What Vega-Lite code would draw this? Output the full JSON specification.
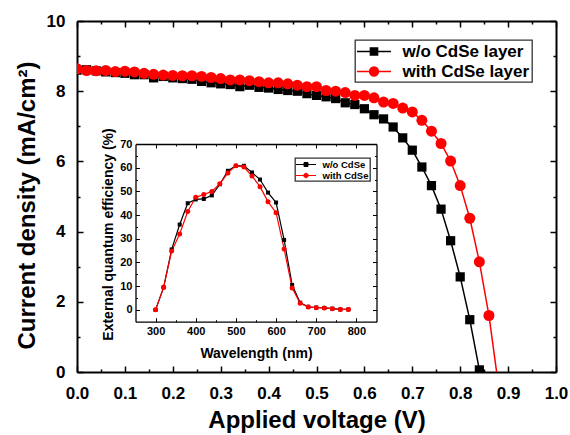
{
  "$schema": "https://vega.github.io/schema/vega-lite/v6.json",
  "width": 479,
  "height": 351,
  "autosize": "none",
  "padding": {"left": 77, "top": 21, "right": 14, "bottom": 63},
  "background": "white",
  "datasets": {
    "jv": [
      {"V": 0.00, "J": 8.60, "s": "w/o CdSe layer"},
      {"V": 0.02, "J": 8.61, "s": "w/o CdSe layer"},
      {"V": 0.04, "J": 8.58, "s": "w/o CdSe layer"},
      {"V": 0.06, "J": 8.55, "s": "w/o CdSe layer"},
      {"V": 0.08, "J": 8.53, "s": "w/o CdSe layer"},
      {"V": 0.10, "J": 8.51, "s": "w/o CdSe layer"},
      {"V": 0.12, "J": 8.47, "s": "w/o CdSe layer"},
      {"V": 0.14, "J": 8.47, "s": "w/o CdSe layer"},
      {"V": 0.16, "J": 8.38, "s": "w/o CdSe layer"},
      {"V": 0.18, "J": 8.42, "s": "w/o CdSe layer"},
      {"V": 0.20, "J": 8.38, "s": "w/o CdSe layer"},
      {"V": 0.22, "J": 8.36, "s": "w/o CdSe layer"},
      {"V": 0.24, "J": 8.34, "s": "w/o CdSe layer"},
      {"V": 0.26, "J": 8.28, "s": "w/o CdSe layer"},
      {"V": 0.28, "J": 8.24, "s": "w/o CdSe layer"},
      {"V": 0.30, "J": 8.21, "s": "w/o CdSe layer"},
      {"V": 0.32, "J": 8.19, "s": "w/o CdSe layer"},
      {"V": 0.34, "J": 8.13, "s": "w/o CdSe layer"},
      {"V": 0.36, "J": 8.17, "s": "w/o CdSe layer"},
      {"V": 0.38, "J": 8.11, "s": "w/o CdSe layer"},
      {"V": 0.40, "J": 8.09, "s": "w/o CdSe layer"},
      {"V": 0.42, "J": 8.05, "s": "w/o CdSe layer"},
      {"V": 0.44, "J": 8.02, "s": "w/o CdSe layer"},
      {"V": 0.46, "J": 8.00, "s": "w/o CdSe layer"},
      {"V": 0.48, "J": 7.93, "s": "w/o CdSe layer"},
      {"V": 0.50, "J": 7.88, "s": "w/o CdSe layer"},
      {"V": 0.52, "J": 7.84, "s": "w/o CdSe layer"},
      {"V": 0.54, "J": 7.79, "s": "w/o CdSe layer"},
      {"V": 0.56, "J": 7.67, "s": "w/o CdSe layer"},
      {"V": 0.58, "J": 7.62, "s": "w/o CdSe layer"},
      {"V": 0.60, "J": 7.50, "s": "w/o CdSe layer"},
      {"V": 0.62, "J": 7.33, "s": "w/o CdSe layer"},
      {"V": 0.64, "J": 7.21, "s": "w/o CdSe layer"},
      {"V": 0.66, "J": 6.98, "s": "w/o CdSe layer"},
      {"V": 0.68, "J": 6.67, "s": "w/o CdSe layer"},
      {"V": 0.70, "J": 6.32, "s": "w/o CdSe layer"},
      {"V": 0.72, "J": 5.84, "s": "w/o CdSe layer"},
      {"V": 0.74, "J": 5.31, "s": "w/o CdSe layer"},
      {"V": 0.76, "J": 4.64, "s": "w/o CdSe layer"},
      {"V": 0.78, "J": 3.74, "s": "w/o CdSe layer"},
      {"V": 0.80, "J": 2.71, "s": "w/o CdSe layer"},
      {"V": 0.82, "J": 1.49, "s": "w/o CdSe layer"},
      {"V": 0.84, "J": 0.06, "s": "w/o CdSe layer"},
      {"V": 0.00, "J": 8.64, "s": "with CdSe layer"},
      {"V": 0.02, "J": 8.59, "s": "with CdSe layer"},
      {"V": 0.04, "J": 8.58, "s": "with CdSe layer"},
      {"V": 0.06, "J": 8.59, "s": "with CdSe layer"},
      {"V": 0.08, "J": 8.56, "s": "with CdSe layer"},
      {"V": 0.10, "J": 8.57, "s": "with CdSe layer"},
      {"V": 0.12, "J": 8.55, "s": "with CdSe layer"},
      {"V": 0.14, "J": 8.51, "s": "with CdSe layer"},
      {"V": 0.16, "J": 8.48, "s": "with CdSe layer"},
      {"V": 0.18, "J": 8.46, "s": "with CdSe layer"},
      {"V": 0.20, "J": 8.45, "s": "with CdSe layer"},
      {"V": 0.22, "J": 8.44, "s": "with CdSe layer"},
      {"V": 0.24, "J": 8.44, "s": "with CdSe layer"},
      {"V": 0.26, "J": 8.42, "s": "with CdSe layer"},
      {"V": 0.28, "J": 8.39, "s": "with CdSe layer"},
      {"V": 0.30, "J": 8.36, "s": "with CdSe layer"},
      {"V": 0.32, "J": 8.32, "s": "with CdSe layer"},
      {"V": 0.34, "J": 8.32, "s": "with CdSe layer"},
      {"V": 0.36, "J": 8.30, "s": "with CdSe layer"},
      {"V": 0.38, "J": 8.27, "s": "with CdSe layer"},
      {"V": 0.40, "J": 8.24, "s": "with CdSe layer"},
      {"V": 0.42, "J": 8.24, "s": "with CdSe layer"},
      {"V": 0.44, "J": 8.21, "s": "with CdSe layer"},
      {"V": 0.46, "J": 8.17, "s": "with CdSe layer"},
      {"V": 0.48, "J": 8.13, "s": "with CdSe layer"},
      {"V": 0.50, "J": 8.13, "s": "with CdSe layer"},
      {"V": 0.52, "J": 8.02, "s": "with CdSe layer"},
      {"V": 0.54, "J": 8.00, "s": "with CdSe layer"},
      {"V": 0.56, "J": 7.96, "s": "with CdSe layer"},
      {"V": 0.58, "J": 7.88, "s": "with CdSe layer"},
      {"V": 0.60, "J": 7.88, "s": "with CdSe layer"},
      {"V": 0.62, "J": 7.81, "s": "with CdSe layer"},
      {"V": 0.64, "J": 7.69, "s": "with CdSe layer"},
      {"V": 0.66, "J": 7.65, "s": "with CdSe layer"},
      {"V": 0.68, "J": 7.52, "s": "with CdSe layer"},
      {"V": 0.70, "J": 7.41, "s": "with CdSe layer"},
      {"V": 0.72, "J": 7.17, "s": "with CdSe layer"},
      {"V": 0.74, "J": 6.86, "s": "with CdSe layer"},
      {"V": 0.76, "J": 6.51, "s": "with CdSe layer"},
      {"V": 0.78, "J": 6.01, "s": "with CdSe layer"},
      {"V": 0.80, "J": 5.31, "s": "with CdSe layer"},
      {"V": 0.82, "J": 4.38, "s": "with CdSe layer"},
      {"V": 0.84, "J": 3.14, "s": "with CdSe layer"},
      {"V": 0.86, "J": 1.61, "s": "with CdSe layer"},
      {"V": 0.88, "J": -0.40, "s": "with CdSe layer"}
    ],
    "eqe": [
      {"wl": 300, "q": 0.0, "s": "w/o CdSe"},
      {"wl": 320, "q": 9.5, "s": "w/o CdSe"},
      {"wl": 340, "q": 25.5, "s": "w/o CdSe"},
      {"wl": 360, "q": 36.0, "s": "w/o CdSe"},
      {"wl": 380, "q": 45.0, "s": "w/o CdSe"},
      {"wl": 400, "q": 46.6, "s": "w/o CdSe"},
      {"wl": 420, "q": 46.8, "s": "w/o CdSe"},
      {"wl": 440, "q": 48.3, "s": "w/o CdSe"},
      {"wl": 460, "q": 53.0, "s": "w/o CdSe"},
      {"wl": 480, "q": 58.7, "s": "w/o CdSe"},
      {"wl": 500, "q": 60.8, "s": "w/o CdSe"},
      {"wl": 520, "q": 60.8, "s": "w/o CdSe"},
      {"wl": 540, "q": 58.0, "s": "w/o CdSe"},
      {"wl": 560, "q": 55.0, "s": "w/o CdSe"},
      {"wl": 580, "q": 49.5, "s": "w/o CdSe"},
      {"wl": 600, "q": 45.3, "s": "w/o CdSe"},
      {"wl": 620, "q": 29.5, "s": "w/o CdSe"},
      {"wl": 640, "q": 10.5, "s": "w/o CdSe"},
      {"wl": 660, "q": 3.0, "s": "w/o CdSe"},
      {"wl": 680, "q": 1.3, "s": "w/o CdSe"},
      {"wl": 700, "q": 1.0, "s": "w/o CdSe"},
      {"wl": 720, "q": 0.8, "s": "w/o CdSe"},
      {"wl": 740, "q": 0.5, "s": "w/o CdSe"},
      {"wl": 760, "q": 0.2, "s": "w/o CdSe"},
      {"wl": 780, "q": 0.2, "s": "w/o CdSe"},
      {"wl": 300, "q": 0.0, "s": "with CdSe"},
      {"wl": 320, "q": 9.5, "s": "with CdSe"},
      {"wl": 340, "q": 24.8, "s": "with CdSe"},
      {"wl": 360, "q": 32.0, "s": "with CdSe"},
      {"wl": 380, "q": 41.5, "s": "with CdSe"},
      {"wl": 400, "q": 47.5, "s": "with CdSe"},
      {"wl": 420, "q": 48.7, "s": "with CdSe"},
      {"wl": 440, "q": 50.0, "s": "with CdSe"},
      {"wl": 460, "q": 53.2, "s": "with CdSe"},
      {"wl": 480, "q": 57.8, "s": "with CdSe"},
      {"wl": 500, "q": 60.8, "s": "with CdSe"},
      {"wl": 520, "q": 60.3, "s": "with CdSe"},
      {"wl": 540, "q": 56.5, "s": "with CdSe"},
      {"wl": 560, "q": 52.0, "s": "with CdSe"},
      {"wl": 580, "q": 45.6, "s": "with CdSe"},
      {"wl": 600, "q": 41.0, "s": "with CdSe"},
      {"wl": 620, "q": 25.7, "s": "with CdSe"},
      {"wl": 640, "q": 9.2, "s": "with CdSe"},
      {"wl": 660, "q": 2.8, "s": "with CdSe"},
      {"wl": 680, "q": 1.2, "s": "with CdSe"},
      {"wl": 700, "q": 0.9, "s": "with CdSe"},
      {"wl": 720, "q": 0.8, "s": "with CdSe"},
      {"wl": 740, "q": 0.5, "s": "with CdSe"},
      {"wl": 760, "q": 0.2, "s": "with CdSe"},
      {"wl": 780, "q": 0.2, "s": "with CdSe"}
    ]
  },
  "layer": [
    {
      "data": {"name": "jv"},
      "mark": {"type": "line", "strokeWidth": 1.5, "clip": true},
      "encoding": {
        "x": {"field": "V", "type": "quantitative",
          "scale": {"domain": [0, 1], "nice": false, "zero": false},
          "axis": {"orient": "bottom",
            "values": [0,0.05,0.1,0.15,0.2,0.25,0.3,0.35,0.4,0.45,0.5,0.55,0.6,0.65,0.7,0.75,0.8,0.85,0.9,0.95,1.0],
            "labelExpr": "round(datum.value*20)%2==0 ? format(datum.value,'.1f') : ''",
            "tickSize": {"condition": {"test": "round(datum.value*20)%2==0", "value": -6}, "value": -3},
            "tickWidth": 1.5, "domainWidth": 2,
            "labelFontSize": 17, "labelPadding": 19.5, "labelBaseline": "top",
            "title": "Applied voltage (V)", "titleFontSize": 24, "titleBaseline": "alphabetic", "titleY": 55, "titleX": 239.5}},
        "y": {"field": "J", "type": "quantitative",
          "scale": {"domain": [0, 10], "nice": false},
          "axis": {"orient": "left",
            "values": [0,1,2,3,4,5,6,7,8,9,10],
            "labelExpr": "datum.value%2==0 ? format(datum.value,'d') : ''",
            "tickSize": {"condition": {"test": "datum.value%2==0", "value": -6}, "value": -3},
            "tickWidth": 1.5, "domainWidth": 2,
            "labelFontSize": 17, "labelPadding": 18,
            "title": "Current density (mA/cm²)", "titleFontSize": 24, "titleX": -50, "titleY": 184, "titleBaseline": "middle", "titleAlign": "center", "titleAngle": 270}},
        "color": {"field": "s", "type": "nominal",
          "scale": {"domain": ["w/o CdSe layer", "with CdSe layer"], "range": ["#000000", "#ff0000"]}, "legend": null}
      }
    },
    {
      "data": {"name": "jv"},
      "mark": {"type": "point", "filled": true, "opacity": 1, "clip": true},
      "encoding": {
        "x": {"field": "V", "type": "quantitative",
          "scale": {"domain": [0, 1], "nice": false, "zero": false},
          "axis": {"orient": "top", "labels": false, "title": null,
            "values": [0,0.05,0.1,0.15,0.2,0.25,0.3,0.35,0.4,0.45,0.5,0.55,0.6,0.65,0.7,0.75,0.8,0.85,0.9,0.95,1.0],
            "tickSize": {"condition": {"test": "round(datum.value*20)%2==0", "value": -6}, "value": -3},
            "tickWidth": 1.5, "domainWidth": 2}},
        "y": {"field": "J", "type": "quantitative",
          "scale": {"domain": [0, 10], "nice": false},
          "axis": {"orient": "right", "labels": false, "title": null,
            "values": [0,1,2,3,4,5,6,7,8,9,10],
            "tickSize": {"condition": {"test": "datum.value%2==0", "value": -6}, "value": -3},
            "tickWidth": 1.5, "domainWidth": 2}},
        "color": {"field": "s", "type": "nominal",
          "scale": {"domain": ["w/o CdSe layer", "with CdSe layer"], "range": ["#000000", "#ff0000"]}, "legend": null},
        "shape": {"field": "s", "type": "nominal",
          "scale": {"domain": ["w/o CdSe layer", "with CdSe layer"], "range": ["square", "circle"]}, "legend": null},
        "size": {"field": "s", "type": "nominal",
          "scale": {"domain": ["w/o CdSe layer", "with CdSe layer"], "range": [85, 121]}, "legend": null}
      }
    },
    {
      "data": {"name": "eqe"},
      "mark": {"type": "line", "strokeWidth": 1.2},
      "encoding": {
        "x": {"field": "wl", "type": "quantitative",
          "scale": {"domain": [250, 850], "range": [58.5, 299.5], "nice": false, "zero": false},
          "axis": {"orient": "bottom", "offset": -50.3,
            "values": [300,350,400,450,500,550,600,650,700,750,800],
            "labelExpr": "datum.value%100==0 ? format(datum.value,'d') : ''",
            "tickSize": {"condition": {"test": "datum.value%100==0", "value": -4}, "value": -2},
            "tickWidth": 1, "domainWidth": 1.3,
            "labelFontSize": 11, "labelPadding": 7.5, "labelBaseline": "top",
            "title": "Wavelength (nm)", "titleFontSize": 14, "titleBaseline": "alphabetic", "titleY": 36, "titleX": 179}},
        "y": {"field": "q", "type": "quantitative",
          "scale": {"domain": [-5, 70], "range": [300.7, 123], "nice": false, "zero": false},
          "axis": {"orient": "left", "offset": -58.5,
            "values": [0,5,10,15,20,25,30,35,40,45,50,55,60,65,70],
            "labelExpr": "datum.value%10==0 ? format(datum.value,'d') : ''",
            "tickSize": {"condition": {"test": "datum.value%10==0", "value": -4}, "value": -2},
            "tickWidth": 1, "domainWidth": 1.3,
            "labelFontSize": 11, "labelPadding": 7.5,
            "title": "External quantum efficiency (%)", "titleFontSize": 14, "titleX": -27.5, "titleY": 213, "titleBaseline": "middle", "titleAlign": "center", "titleAngle": 270}},
        "color": {"field": "s", "type": "nominal",
          "scale": {"domain": ["w/o CdSe", "with CdSe"], "range": ["#000000", "#ff0000"]}, "legend": null}
      }
    },
    {
      "data": {"name": "eqe"},
      "mark": {"type": "point", "filled": true, "opacity": 1},
      "encoding": {
        "x": {"field": "wl", "type": "quantitative",
          "scale": {"domain": [250, 850], "range": [58.5, 299.5], "nice": false, "zero": false},
          "axis": {"orient": "top", "offset": -123, "labels": false, "title": null,
            "values": [300,350,400,450,500,550,600,650,700,750,800],
            "tickSize": {"condition": {"test": "datum.value%100==0", "value": -4}, "value": -2},
            "tickWidth": 1, "domainWidth": 1.3}},
        "y": {"field": "q", "type": "quantitative",
          "scale": {"domain": [-5, 70], "range": [300.7, 123], "nice": false, "zero": false},
          "axis": {"orient": "right", "offset": -179.5, "labels": false, "title": null,
            "values": [0,5,10,15,20,25,30,35,40,45,50,55,60,65,70],
            "tickSize": {"condition": {"test": "datum.value%10==0", "value": -4}, "value": -2},
            "tickWidth": 1, "domainWidth": 1.3}},
        "color": {"field": "s", "type": "nominal",
          "scale": {"domain": ["w/o CdSe", "with CdSe"], "range": ["#000000", "#ff0000"]}, "legend": null},
        "shape": {"field": "s", "type": "nominal",
          "scale": {"domain": ["w/o CdSe", "with CdSe"], "range": ["square", "circle"]}, "legend": null},
        "size": {"field": "s", "type": "nominal",
          "scale": {"domain": ["w/o CdSe", "with CdSe"], "range": [16, 25]}, "legend": null}
      }
    },
    {
      "data": {"values": [{"s": "w/o CdSe layer"}, {"s": "with CdSe layer"}]},
      "transform": [{"filter": "false"}],
      "mark": {"type": "point", "filled": true, "strokeWidth": 1.5, "opacity": 1},
      "encoding": {
        "fill": {"field": "s", "type": "nominal",
          "scale": {"domain": ["w/o CdSe layer", "with CdSe layer"], "range": ["#000000", "#ff0000"]},
          "legend": {"orient": "none", "legendX": 278, "legendY": 19, "title": null, "padding": 2,
            "strokeColor": "#333333", "fillColor": "white", "symbolSize": 289, "symbolStrokeWidth": 1.5, "symbolOpacity": 1,
            "symbolOffset": 7.5, "labelOffset": 19, "rowPadding": 2, "labelFontSize": 17}},
        "stroke": {"field": "s", "type": "nominal",
          "scale": {"domain": ["w/o CdSe layer", "with CdSe layer"], "range": ["#000000", "#ff0000"]},
          "legend": {"orient": "none", "legendX": 278, "legendY": 19, "title": null, "padding": 2,
            "strokeColor": "#333333", "fillColor": "white", "symbolSize": 289, "symbolStrokeWidth": 1.5, "symbolOpacity": 1,
            "symbolOffset": 7.5, "labelOffset": 19, "rowPadding": 2, "labelFontSize": 17}},
        "shape": {"field": "s", "type": "nominal",
          "scale": {"domain": ["w/o CdSe layer", "with CdSe layer"],
            "range": ["M-2,0H2M-0.42,-0.42H0.42V0.42H-0.42Z", "M-2,0H2M0.52,0A0.52,0.52 0 1 1 -0.52,0A0.52,0.52 0 1 1 0.52,0Z"]},
          "legend": {"orient": "none", "legendX": 278, "legendY": 19, "title": null, "padding": 2,
            "strokeColor": "#333333", "fillColor": "white", "symbolSize": 289, "symbolStrokeWidth": 1.5, "symbolOpacity": 1,
            "symbolOffset": 7.5, "labelOffset": 19, "rowPadding": 2, "labelFontSize": 17}}
      }
    },
    {
      "data": {"values": [{"s": "w/o CdSe"}, {"s": "with CdSe"}]},
      "transform": [{"filter": "false"}],
      "mark": {"type": "point", "filled": true, "strokeWidth": 1, "opacity": 1},
      "encoding": {
        "fill": {"field": "s", "type": "nominal",
          "scale": {"domain": ["w/o CdSe", "with CdSe"], "range": ["#000000", "#ff0000"]},
          "legend": {"orient": "none", "legendX": 218, "legendY": 137, "title": null, "padding": 1,
            "strokeColor": "#333333", "fillColor": "white", "symbolSize": 100, "symbolStrokeWidth": 1, "symbolOpacity": 1,
            "symbolOffset": 4.5, "labelOffset": 11, "rowPadding": 1, "labelFontSize": 9.5}},
        "stroke": {"field": "s", "type": "nominal",
          "scale": {"domain": ["w/o CdSe", "with CdSe"], "range": ["#000000", "#ff0000"]},
          "legend": {"orient": "none", "legendX": 218, "legendY": 137, "title": null, "padding": 1,
            "strokeColor": "#333333", "fillColor": "white", "symbolSize": 100, "symbolStrokeWidth": 1, "symbolOpacity": 1,
            "symbolOffset": 4.5, "labelOffset": 11, "rowPadding": 1, "labelFontSize": 9.5}},
        "shape": {"field": "s", "type": "nominal",
          "scale": {"domain": ["w/o CdSe", "with CdSe"],
            "range": ["M-2,0H2M-0.4,-0.4H0.4V0.4H-0.4Z", "M-2,0H2M0.45,0A0.45,0.45 0 1 1 -0.45,0A0.45,0.45 0 1 1 0.45,0Z"]},
          "legend": {"orient": "none", "legendX": 218, "legendY": 137, "title": null, "padding": 1,
            "strokeColor": "#333333", "fillColor": "white", "symbolSize": 100, "symbolStrokeWidth": 1, "symbolOpacity": 1,
            "symbolOffset": 4.5, "labelOffset": 11, "rowPadding": 1, "labelFontSize": 9.5}}
      }
    }
  ],
  "resolve": {
    "scale": {"x": "independent", "y": "independent", "color": "independent", "fill": "independent", "stroke": "independent", "shape": "independent", "size": "independent"},
    "axis": {"x": "independent", "y": "independent"},
    "legend": {"fill": "independent", "stroke": "independent", "shape": "independent"}
  },
  "config": {
    "view": {"stroke": null},
    "axis": {"grid": false, "labelFont": "Liberation Sans", "titleFont": "Liberation Sans",
      "labelFontWeight": "bold", "titleFontWeight": "bold", "labelColor": "black", "titleColor": "black",
      "tickColor": "black", "domainColor": "black", "labelFlush": false, "labelOverlap": false, "ticks": true, "domain": true},
    "legend": {"labelFont": "Liberation Sans", "labelFontWeight": "bold", "labelColor": "black", "strokeWidth": 1.3}
  }
}
